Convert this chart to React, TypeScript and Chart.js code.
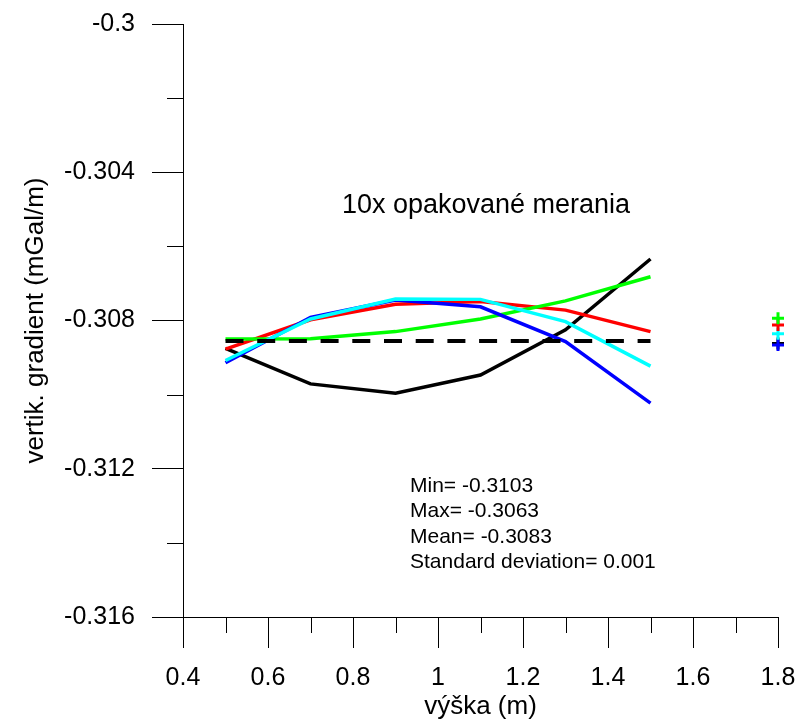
import React, { useEffect, useRef } from 'react';
import { Chart, registerables } from 'chart.js';

Chart.register(...registerables);

// ---- data ----
const heights = [0.5, 0.7, 0.9, 1.1, 1.3, 1.5];
const seriesBlack = [-0.30875, -0.30971, -0.30996, -0.30947, -0.30825, -0.30634];
const seriesRed = [-0.30877, -0.30798, -0.30756, -0.30749, -0.30772, -0.30830];
const seriesGreen = [-0.30850, -0.30849, -0.30830, -0.30796, -0.30747, -0.30682];
const seriesBlue = [-0.30914, -0.30792, -0.30745, -0.30763, -0.30857, -0.31023];
const seriesCyan = [-0.30908, -0.30796, -0.30742, -0.30743, -0.30803, -0.30923];
const meanLineValue = -0.30855;
const meanLineRange = [0.5, 1.5];
const markerX = 1.8;
const markerValues = { green: -0.30794, red: -0.30812, cyan: -0.30836, blue: -0.30866, black: -0.30862 };
const yMajorTicks = [-0.316, -0.312, -0.308, -0.304, -0.3];
const yMinorTicks = [-0.314, -0.310, -0.306, -0.302];
const xMinorTicks = [0.5, 0.7, 0.9, 1.1, 1.3, 1.5, 1.7];
const titleText = '10x opakované merania';
const statsLines = ['Min= -0.3103', 'Max= -0.3063', 'Mean= -0.3083', 'Standard deviation= 0.001'];

const FONT = '"Liberation Sans", Arial, sans-serif';

export default function App() {
  const ref = useRef<HTMLCanvasElement>(null);

  useEffect(() => {
    const canvas = ref.current;
    if (!canvas) return;
    const toPts = (ys: number[]) => heights.map((x, i) => ({ x, y: ys[i] }));

    const line = (data: number[], color: string) => ({
      data: toPts(data),
      showLine: true,
      borderColor: color,
      backgroundColor: color,
      borderWidth: 3.5,
      pointRadius: 0,
      fill: false,
      tension: 0,
    });
    const marker = (v: number, color: string) => ({
      data: [{ x: markerX, y: v }],
      showLine: false,
      pointStyle: 'cross',
      pointRadius: 6,
      pointBorderWidth: 3,
      borderColor: color,
      backgroundColor: color,
      clip: false,
    });

    const minorTicks = {
      id: 'minorTicks',
      afterDraw(chart: any) {
        const { ctx, chartArea, scales } = chart;
        ctx.save();
        ctx.strokeStyle = '#000';
        ctx.lineWidth = 1;
        ctx.beginPath();
        yMinorTicks.forEach((v) => {
          const py = Math.round(scales.y.getPixelForValue(v)) + 0.5;
          ctx.moveTo(chartArea.left - 16, py);
          ctx.lineTo(chartArea.left, py);
        });
        xMinorTicks.forEach((v) => {
          const px = Math.round(scales.x.getPixelForValue(v)) + 0.5;
          ctx.moveTo(px, chartArea.bottom);
          ctx.lineTo(px, chartArea.bottom + 16);
        });
        ctx.stroke();
        ctx.restore();
      },
    };

    const annotations = {
      id: 'annotations',
      afterDraw(chart: any) {
        const { ctx } = chart;
        ctx.save();
        ctx.fillStyle = '#000';
        ctx.font = `27px ${FONT}`;
        ctx.textAlign = 'center';
        ctx.textBaseline = 'middle';
        ctx.fillText(titleText, 486, 206);
        ctx.font = `21px ${FONT}`;
        ctx.textAlign = 'left';
        statsLines.forEach((t, i) => {
          ctx.fillText(t, 410, 486 + i * 25.5);
        });
        ctx.restore();
      },
    };

    const chart = new Chart(canvas, {
      type: 'scatter',
      data: {
        datasets: [
          {
            data: meanLineRange.map((x) => ({ x, y: meanLineValue })),
            showLine: true,
            borderColor: '#000',
            borderWidth: 4,
            borderDash: [18, 13.7],
            pointRadius: 0,
            fill: false,
          } as any,
          line(seriesCyan, '#00ffff'),
          line(seriesBlue, '#0000ff'),
          line(seriesGreen, '#00ff00'),
          line(seriesRed, '#ff0000'),
          line(seriesBlack, '#000000'),
          marker(markerValues.green, '#00ff00'),
          marker(markerValues.red, '#ff0000'),
          marker(markerValues.cyan, '#00ffff'),
          marker(markerValues.blue, '#0000ff'),
          marker(markerValues.black, '#000000'),
        ] as any,
      },
      options: {
        responsive: false,
        animation: false,
        maintainAspectRatio: false,
        layout: { padding: { top: 24, right: 33, left: 0, bottom: 0 } },
        plugins: {
          legend: { display: false },
          tooltip: { enabled: false },
        },
        scales: {
          x: {
            type: 'linear',
            position: 'bottom',
            min: 0.4,
            max: 1.8,
            afterFit: (s: any) => { s.height = 103; s.paddingLeft = 0; s.paddingRight = 0; },
            ticks: {
              stepSize: 0.2,
              autoSkip: false,
              maxRotation: 0,
              color: '#000',
              padding: 15,
              font: { size: 25, family: FONT },
              callback: (v: any) => String(Number(Number(v).toFixed(1))),
            },
            grid: { drawOnChartArea: false, tickLength: 31, color: '#000', tickColor: '#000', lineWidth: 1 },
            border: { display: true, color: '#000', width: 1 },
            title: {
              display: true,
              text: 'výška (m)',
              color: '#000',
              font: { size: 26, family: FONT, lineHeight: 1 },
              padding: { top: 0, bottom: 0 },
            },
          },
          y: {
            type: 'linear',
            position: 'left',
            min: -0.316,
            max: -0.3,
            afterFit: (s: any) => { s.width = 183; s.paddingTop = 0; s.paddingBottom = 0; },
            afterBuildTicks: (s: any) => { s.ticks = yMajorTicks.map((v) => ({ value: v })); },
            ticks: {
              stepSize: 0.004,
              color: '#000',
              padding: 17,
              font: { size: 25, family: FONT },
              callback: (v: any) => String(Number(Number(v).toFixed(3))),
            },
            grid: { drawOnChartArea: false, tickLength: 31, color: '#000', tickColor: '#000', lineWidth: 1 },
            border: { display: true, color: '#000', width: 1 },
            title: {
              display: true,
              text: 'vertik. gradient (mGal/m)',
              color: '#000',
              font: { size: 26, family: FONT, lineHeight: 1 },
              padding: { top: 23, bottom: 0 },
            },
          },
        },
      } as any,
      plugins: [minorTicks, annotations],
    });
    return () => chart.destroy();
  }, []);

  return (
    <div style={{ position: 'absolute', left: 0, top: 0, width: 811, height: 720, background: '#fff' }}>
      <canvas ref={ref} width={811} height={720} style={{ width: 811, height: 720, display: 'block' }} />
    </div>
  );
}
